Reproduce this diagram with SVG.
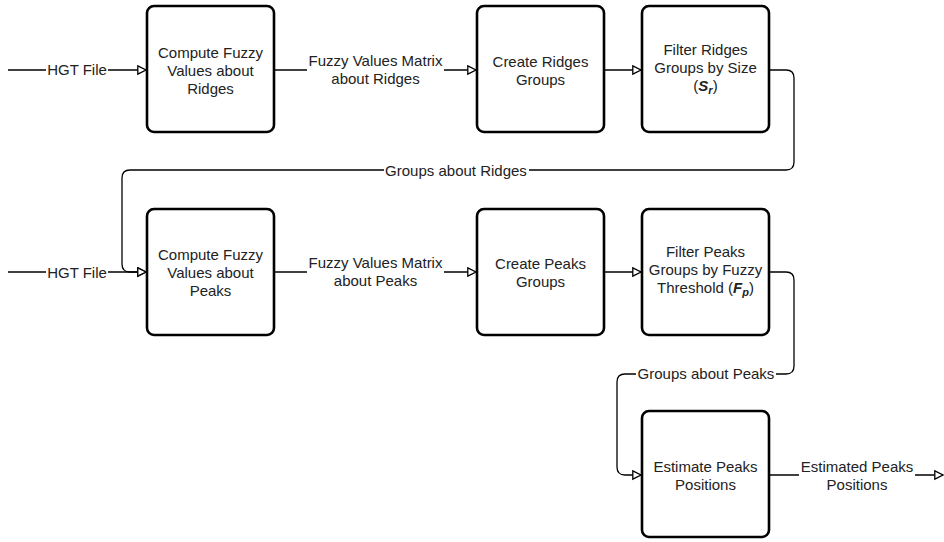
<svg xmlns="http://www.w3.org/2000/svg" width="944" height="542" viewBox="0 0 944 542">
<defs>
<style>
.box{fill:#fff;stroke:#000;stroke-width:2.6}
.t{font-family:"Liberation Sans",Arial,sans-serif;font-size:15px;fill:#222;text-anchor:middle}
.c{fill:none;stroke:#000;stroke-width:1.3}
.bg{fill:#fff}
.v{font-weight:bold;font-style:italic}
</style>
<marker id="arr" markerWidth="12" markerHeight="12" refX="9" refY="5" orient="auto" markerUnits="userSpaceOnUse">
<path d="M0.8,0.8 L9,5 L0.8,9.2 Z" fill="#fff" stroke="#000" stroke-width="1.3"/>
</marker>
</defs>
<rect width="944" height="542" fill="#fff"/>
<g id="connectors">
<path class="c" d="M8,70 H146" marker-end="url(#arr)"/>
<path class="c" d="M274,70 H476" marker-end="url(#arr)"/>
<path class="c" d="M604,70 H641" marker-end="url(#arr)"/>
<path class="c" d="M769,70 H786 Q794,70 794,78 V162 Q794,170 786,170 H130 Q122,170 122,178 V264 Q122,272 130,272 H146" marker-end="url(#arr)"/>
<path class="c" d="M8,272 H146" marker-end="url(#arr)"/>
<path class="c" d="M274,272 H476" marker-end="url(#arr)"/>
<path class="c" d="M604,272 H641" marker-end="url(#arr)"/>
<path class="c" d="M769,272 H786 Q794,272 794,280 V366 Q794,374 786,374 H625 Q617,374 617,382 V467 Q617,475 625,475 H641" marker-end="url(#arr)"/>
<path class="c" d="M769,475 H943" marker-end="url(#arr)"/>
<g id="labels">
<rect class="bg" x="46" y="62" width="62" height="16"/>
<text class="t" x="77" y="75">HGT File</text>
<rect class="bg" x="307" y="62" width="137" height="16"/>
<text class="t" x="375.5" y="66">Fuzzy Values Matrix</text>
<text class="t" x="375.5" y="84">about Ridges</text>
<rect class="bg" x="384" y="162" width="145" height="16"/>
<text class="t" x="456" y="176">Groups about Ridges</text>
<rect class="bg" x="46" y="264" width="62" height="16"/>
<text class="t" x="77" y="278">HGT File</text>
<rect class="bg" x="307" y="264" width="137" height="16"/>
<text class="t" x="375.5" y="268">Fuzzy Values Matrix</text>
<text class="t" x="375.5" y="286">about Peaks</text>
<rect class="bg" x="636" y="366" width="140" height="16"/>
<text class="t" x="706" y="379">Groups about Peaks</text>
<rect class="bg" x="799" y="467" width="116" height="16"/>
<text class="t" x="857" y="472">Estimated Peaks</text>
<text class="t" x="857" y="490">Positions</text>
</g>
</g>
<g id="n1">
<rect class="box" x="147" y="6" width="127" height="126" rx="7"/>
<text class="t" x="210.5" y="58">Compute Fuzzy</text>
<text class="t" x="210.5" y="76">Values about</text>
<text class="t" x="210.5" y="94">Ridges</text>
</g>
<g id="n2">
<rect class="box" x="477" y="6" width="127" height="126" rx="7"/>
<text class="t" x="540.5" y="67">Create Ridges</text>
<text class="t" x="540.5" y="85">Groups</text>
</g>
<g id="n3">
<rect class="box" x="642" y="6" width="127" height="126" rx="7"/>
<text class="t" x="705.5" y="55">Filter Ridges</text>
<text class="t" x="705.5" y="73">Groups by Size</text>
<text class="t" x="705.5" y="91">(<tspan class="v">S</tspan><tspan class="v" font-size="11" dy="3">r</tspan><tspan dy="-3">)</tspan></text>
</g>
<g id="n4">
<rect class="box" x="147" y="209" width="127" height="126" rx="7"/>
<text class="t" x="210.5" y="260">Compute Fuzzy</text>
<text class="t" x="210.5" y="278">Values about</text>
<text class="t" x="210.5" y="296">Peaks</text>
</g>
<g id="n5">
<rect class="box" x="477" y="209" width="127" height="126" rx="7"/>
<text class="t" x="540.5" y="269">Create Peaks</text>
<text class="t" x="540.5" y="287">Groups</text>
</g>
<g id="n6">
<rect class="box" x="642" y="209" width="127" height="126" rx="7"/>
<text class="t" x="705.5" y="257">Filter Peaks</text>
<text class="t" x="705.5" y="275">Groups by Fuzzy</text>
<text class="t" x="705.5" y="293">Threshold (<tspan class="v">F</tspan><tspan class="v" font-size="11" dy="3">p</tspan><tspan dy="-3">)</tspan></text>
</g>
<g id="n7">
<rect class="box" x="642" y="411" width="127" height="126" rx="7"/>
<text class="t" x="705.5" y="472">Estimate Peaks</text>
<text class="t" x="705.5" y="490">Positions</text>
</g>
</svg>
